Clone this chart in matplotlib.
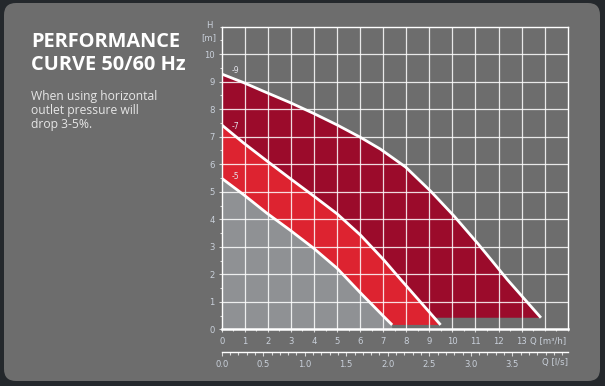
import matplotlib
matplotlib.use('Agg')
import matplotlib.pyplot as plt
from matplotlib.patches import FancyBboxPatch, Polygon
from matplotlib.ticker import MultipleLocator, FixedLocator

# curve -9
q9 = [0, 0.94, 1.96, 2.97, 3.98, 5.0, 6.01, 6.88, 7.97, 9.06, 10.07, 11.09, 11.67, 12.39, 13.84]
h9 = [9.28, 8.97, 8.6, 8.24, 7.85, 7.43, 6.98, 6.55, 5.9, 5.02, 4.12, 3.13, 2.54, 1.8, 0.42]
# curve -7
q7 = [0, 0.94, 1.96, 2.97, 3.98, 5.0, 6.01, 7.03, 7.75, 9.49]
h7 = [7.43, 6.78, 6.12, 5.48, 4.85, 4.2, 3.43, 2.52, 1.82, 0.16]
# curve -5
q5 = [0, 0.94, 1.96, 2.97, 3.98, 5.0, 6.01, 7.03, 7.39]
h5 = [5.49, 4.9, 4.22, 3.6, 2.95, 2.22, 1.33, 0.46, 0.16]
# bottom of each filled area
bases = [0.42, 0.16, 0.0]
curve_names = ['-9', '-7', '-5']
label_h = [9.39, 7.39, 5.54]

x_ticks = list(range(0, 14))
ls_ticks = [0.0, 0.5, 1.0, 1.5, 2.0, 2.5, 3.0, 3.5]
y_ticks = list(range(0, 11))

fills = ['#9b0b2b', '#dd2330', '#8f9194']
card = '#6d6d6d'
lbl = '#c9d0da'

W, H = 605, 386
fig = plt.figure(figsize=(W / 100, H / 100), dpi=100)
fig.patch.set_facecolor('#24282c')

# background card in pixel coords
bg = fig.add_axes([0, 0, 1, 1], zorder=-1)
bg.set_xlim(0, W)
bg.set_ylim(H, 0)
bg.axis('off')
bg.add_patch(FancyBboxPatch((4, 3), 596, 378, boxstyle='round,pad=0,rounding_size=12',
                            facecolor=card, edgecolor='none'))

fig.text(31 / W, 1 - 47 / H, 'PERFORMANCE', color='white', fontsize=14.4,
         fontweight='bold', family='Open Sans', va='baseline')
fig.text(31 / W, 1 - 70 / H, 'CURVE 50/60 Hz', color='white', fontsize=14.4,
         fontweight='bold', family='Open Sans', va='baseline')
for i, line in enumerate(['When using horizontal', 'outlet pressure will', 'drop 3-5%.']):
    fig.text(31 / W, 1 - (100 + 14 * i) / H, line, color='#e6e6e6', fontsize=8.7,
             family='Open Sans', va='baseline')

ax = fig.add_axes([221.7 / W, 1 - 329.3 / H, 346 / W, 302.6 / H])
ax.set_facecolor('none')
ax.set_xlim(0, 15)
ax.set_ylim(0, 11)

curves = [(q9, h9), (q7, h7), (q5, h5)]
for (q, h), b, c in zip(curves, bases, fills):
    pts = list(zip(q, h)) + [(q[-1], b), (0, b)]
    ax.add_patch(Polygon(pts, closed=True, facecolor=c, edgecolor='none', zorder=1))

for v in range(1, 15):
    ax.axvline(v, color='white', lw=0.9, alpha=0.85, zorder=2)
for v in range(1, 11):
    ax.axhline(v, color='white', lw=0.9, alpha=0.85, zorder=2)

for (q, h), name, lh in zip(curves, curve_names, label_h):
    ax.plot(q, h, color='white', lw=2.0, zorder=3, solid_capstyle='butt',
            solid_joinstyle='round')
    ax.text(0.58, lh, name, color='#e4e4ec', fontsize=5.5, ha='center', va='center', zorder=4)

for s in ax.spines.values():
    s.set_color('white')
    s.set_linewidth(1.0)
ax.spines['bottom'].set_linewidth(1.8)

ax.xaxis.set_major_locator(FixedLocator(x_ticks))
ax.xaxis.set_minor_locator(MultipleLocator(0.5))
ax.yaxis.set_major_locator(FixedLocator(y_ticks))
ax.yaxis.set_minor_locator(MultipleLocator(0.5))
ax.tick_params(axis='both', which='both', colors='#d8d8d8', labelcolor=lbl,
               labelsize=6.1, width=0.8, direction='out')
ax.tick_params(axis='both', which='major', length=2.3)
ax.tick_params(axis='both', which='minor', length=1.6)
ax.tick_params(axis='x', pad=3.5)
ax.tick_params(axis='y', pad=2.8)

sec = ax.secondary_xaxis(-0.074, functions=(lambda q: q / 3.6, lambda l: l * 3.6))
sec.spines['bottom'].set_color('white')
sec.spines['bottom'].set_linewidth(1.0)
sec.xaxis.set_major_locator(FixedLocator(ls_ticks))
sec.xaxis.set_minor_locator(MultipleLocator(0.1))
sec.set_xticklabels(['%.1f' % t for t in ls_ticks])
sec.tick_params(which='both', colors='#d8d8d8', labelcolor=lbl, labelsize=6.1,
                width=0.8, direction='out', pad=2.5)
sec.tick_params(which='major', length=3.2)
sec.tick_params(which='minor', length=1.8)

ax.text(-0.55, 11.05, 'H', color=lbl, fontsize=6.1, ha='center', va='center', clip_on=False)
ax.text(-0.57, 10.62, '[m]', color=lbl, fontsize=6.1, ha='center', va='center', clip_on=False)
ax.text(14.95, -0.46, 'Q [m³/h]', color=lbl, fontsize=6.1, ha='right', va='center', clip_on=False)
ax.text(15.0, -1.19, 'Q [l/s]', color=lbl, fontsize=6.1, ha='right', va='center', clip_on=False)

fig.savefig('out.png', dpi=100, facecolor=fig.get_facecolor())
